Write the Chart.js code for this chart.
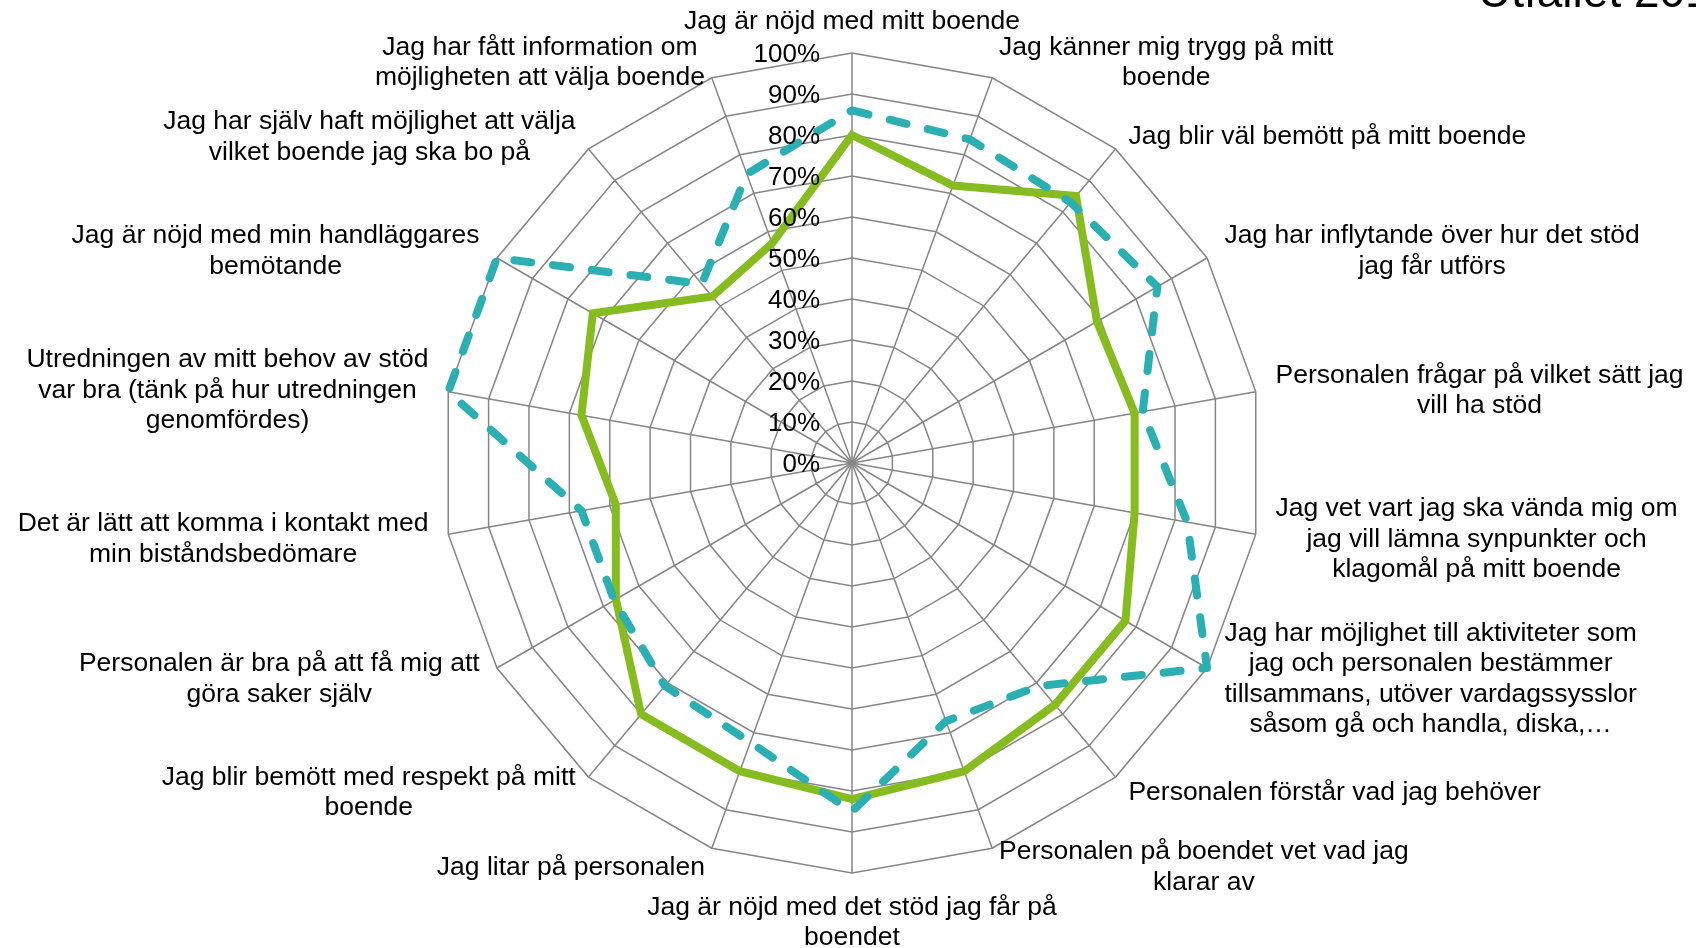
<!DOCTYPE html>
<html>
<head>
<meta charset="utf-8">
<script src="https://cdn.jsdelivr.net/npm/chart.js@4"></script>
<style>
  html, body { margin: 0; padding: 0; background: #ffffff; overflow: hidden; }
  #wrap { width: 1696px; height: 948px; position: relative; }
</style>
</head>
<body>
<div id="wrap"><canvas id="c" width="1696" height="948"></canvas></div>
<script>
// ---- data ----
const categories = [
  ["Jag är nöjd med mitt boende"],
  ["Jag känner mig trygg på mitt", "boende"],
  ["Jag blir väl bemött på mitt boende"],
  ["Jag har inflytande över hur det stöd", "jag får utförs"],
  ["Personalen frågar på vilket sätt jag", "vill ha stöd"],
  ["Jag vet vart jag ska vända mig om", "jag vill lämna synpunkter och", "klagomål på mitt boende"],
  ["Jag har möjlighet till aktiviteter som", "jag och personalen bestämmer", "tillsammans, utöver vardagssysslor", "såsom gå och handla, diska,…"],
  ["Personalen förstår vad jag behöver"],
  ["Personalen på boendet vet vad jag", "klarar av"],
  ["Jag är nöjd med det stöd jag får på", "boendet"],
  ["Jag litar på personalen"],
  ["Jag blir bemött med respekt på mitt", "boende"],
  ["Personalen är bra på att få mig att", "göra saker själv"],
  ["Det är lätt att komma i kontakt med", "min biståndsbedömare"],
  ["Utredningen av mitt behov av stöd", "var bra (tänk på hur utredningen", "genomfördes)"],
  ["Jag är nöjd med min handläggares", "bemötande"],
  ["Jag har själv haft möjlighet att välja", "vilket boende jag ska bo på"],
  ["Jag har fått information om", "möjligheten att välja boende"]
];
const greenValues = [80, 72, 85, 69, 70, 70, 77, 77, 80, 82, 80, 80, 66.5, 58.5, 67, 73, 53, 57];
const tealValues  = [86, 84, 83, 86, 72, 83, 100, 71, 67, 85, 72.5, 71, 67, 67, 100, 100, 57, 75];
const tickValues = [0, 10, 20, 30, 40, 50, 60, 70, 80, 90, 100];
const tickLabels = ["0%", "10%", "20%", "30%", "40%", "50%", "60%", "70%", "80%", "90%", "100%"];
const titleText = "Utfallet 2017";

const FONT = '"Liberation Sans", Arial, sans-serif';
const GRID = '#868686';

const labelPlugin = {
  id: 'customLabels',
  afterDraw(chart) {
    const scale = chart.scales.r;
    const ctx = chart.ctx;
    ctx.save();
    ctx.fillStyle = '#000000';
    // point labels
    ctx.font = '26.5px ' + FONT;
    ctx.textAlign = 'center';
    ctx.textBaseline = 'middle';
    const lh = 30.5;
    const n = categories.length;
    categories.forEach((lines, i) => {
      const theta = i * 2 * Math.PI / n;
      const s = Math.sin(theta), c = Math.cos(theta);
      const W = Math.max(...lines.map(l => ctx.measureText(l).width));
      const H = lines.length * lh;
      let cx, top;
      if (Math.abs(s) < 0.01) {
        if (c > 0) {
          const p = scale.getPointPosition(i, scale.drawingArea + 16);
          cx = p.x; top = p.y - H;
        } else {
          const p = scale.getPointPosition(i, scale.drawingArea + 19);
          cx = p.x; top = p.y;
        }
      } else {
        const p = scale.getPointPosition(i, scale.drawingArea + 20);
        cx = s > 0 ? p.x + W / 2 : p.x - W / 2;
        top = p.y - H / 2 + 2 + 2 * c;
      }
      lines.forEach((l, k) => ctx.fillText(l, cx, top + lh * (k + 0.5)));
    });
    // tick labels
    ctx.font = '26px ' + FONT;
    ctx.textAlign = 'right';
    ctx.textBaseline = 'middle';
    tickValues.forEach((v, k) => {
      const d = scale.getDistanceFromCenterForValue(v);
      ctx.fillText(tickLabels[k], scale.xCenter - 32, scale.yCenter - d + 2);
    });
    // title (clipped at top like the reference)
    ctx.font = '46px ' + FONT;
    ctx.textAlign = 'left';
    ctx.textBaseline = 'alphabetic';
    ctx.fillText(titleText, 1478, 7);
    ctx.restore();
  }
};

new Chart(document.getElementById('c'), {
  type: 'radar',
  data: {
    labels: categories,
    datasets: [
      {
        label: 'Serie 2',
        data: tealValues,
        borderColor: '#2CAFB3',
        backgroundColor: 'rgba(0,0,0,0)',
        borderWidth: 8,
        borderDash: [17, 22],
        borderCapStyle: 'round',
        borderJoinStyle: 'round',
        pointRadius: 0,
        pointHoverRadius: 0,
        fill: false,
        tension: 0
      },
      {
        label: 'Serie 1',
        data: greenValues,
        borderColor: '#86BC1F',
        backgroundColor: 'rgba(0,0,0,0)',
        borderWidth: 8,
        borderJoinStyle: 'miter',
        pointRadius: 0,
        pointHoverRadius: 0,
        fill: false,
        tension: 0
      }
    ]
  },
  options: {
    responsive: false,
    animation: false,
    layout: { padding: { left: 442, right: 434, top: 53, bottom: 75 } },
    plugins: {
      legend: { display: false },
      tooltip: { enabled: false },
      title: { display: false }
    },
    scales: {
      r: {
        min: 0,
        max: 100,
        beginAtZero: true,
        ticks: { display: false, stepSize: 10 },
        pointLabels: { display: false },
        grid: { color: GRID, lineWidth: 1.5, circular: false },
        angleLines: { color: GRID, lineWidth: 1.5 }
      }
    }
  },
  plugins: [labelPlugin]
});
</script>
</body>
</html>
